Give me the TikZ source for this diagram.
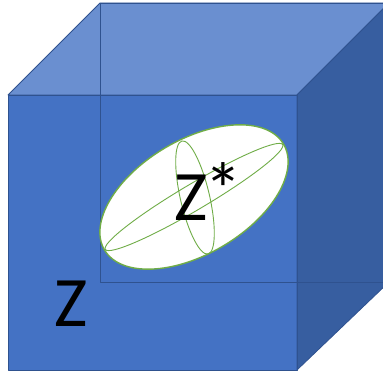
\documentclass[tikz,border=0pt]{standalone}
\usepackage{fontspec}
\setmainfont{Carlito}
\definecolor{frontblue}{HTML}{4472C4}
\definecolor{topblue}{HTML}{6A8FD0}
\definecolor{sideblue}{HTML}{375EA0}
\definecolor{edgeblue}{HTML}{2F528F}
\definecolor{leafgreen}{HTML}{70AD47}
\begin{document}
\begin{tikzpicture}[x=1pt,y=1pt,
  face/.style={draw=edgeblue,line width=0.8pt,line join=round},
  shell/.style={draw=leafgreen,fill=white,line width=1.4pt},
  ring/.style={draw=leafgreen,line width=0.9pt},
  lbl/.style={font=\fontsize{71}{71}\selectfont,inner sep=0pt,text=black}]
\useasboundingbox (0,0) rectangle (383,374);
\begin{scope}
\clip (0,0) rectangle (383,374);
% faces
\coordinate (f1) at (8,279);
\coordinate (f2) at (297,279);
\coordinate (f3) at (297,4);
\coordinate (f4) at (8,4);
\coordinate (b1) at (100,371);
\coordinate (b2) at (389,371);
\coordinate (b3) at (389,92);
\coordinate (b4) at (100,92);
\fill[frontblue] (f1) -- (f2) -- (f3) -- (f4) -- cycle;
\draw[face,fill=topblue] (f1) -- (b1) -- (b2) -- (f2) -- cycle;
\draw[face,fill=sideblue] (f2) -- (b2) -- (b3) -- (f3) -- cycle;
\draw[face] (f1) -- (f2) -- (f3) -- (f4) -- cycle;
\draw[face] (b1) -- (b2) -- (b3) -- (b4) -- cycle;
\end{scope}
% ellipsoid
\coordinate (c) at (194,177);
\draw[shell] (c) ellipse[x radius=104,y radius=57,rotate=30.6];
\draw[ring] (c) ellipse[x radius=103,y radius=13,rotate=30.6];
\draw[ring] (195,176.5) ellipse[x radius=58,y radius=14.6,rotate=-77];
% labels
\node[lbl,anchor=base west] (zs) at (174,153.3) {Z\kern-3pt\raisebox{4pt}{\fontsize{76}{76}\selectfont *}};
\node[lbl,anchor=base west] (z) at (54,47) {Z};
\end{tikzpicture}
\end{document}
